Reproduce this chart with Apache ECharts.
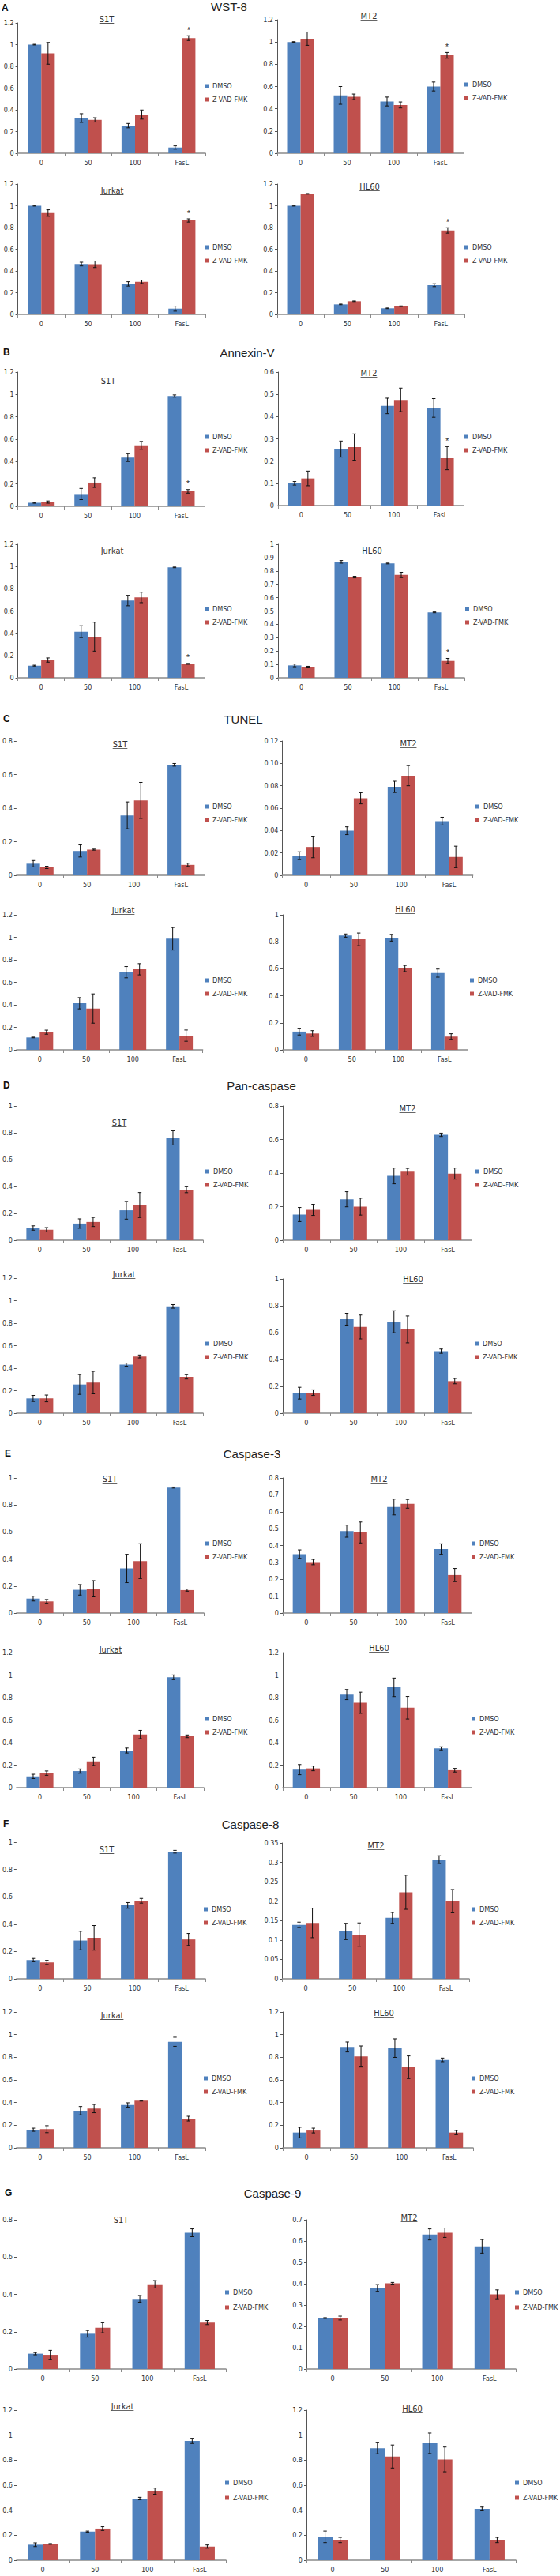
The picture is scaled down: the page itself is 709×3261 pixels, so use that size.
<!DOCTYPE html>
<html><head><meta charset="utf-8">
<script src="https://cdn.jsdelivr.net/npm/echarts@6/dist/echarts.min.js"></script>
<style>html,body{margin:0;padding:0;background:#fff}#c{width:709px;height:3261px}</style>
</head><body><div id="c"></div>
<script>
// ---------------- DATA ----------------
const categories = ['0', '50', '100', 'FasL'];
const seriesNames = ['DMSO', 'Z-VAD-FMK'];
const cellLines = ['S1T', 'MT2', 'Jurkat', 'HL60'];
const panelLetters = ['A', 'B', 'C', 'D', 'E', 'F', 'G'];
const assays = ['WST-8', 'Annexin-V', 'TUNEL', 'Pan-caspase', 'Caspase-3', 'Caspase-8', 'Caspase-9'];
// significance star on FasL / Z-VAD-FMK
const starredAssays = [true, true, false, false, false, false, false];

// y-axis max and step, rows = assays, columns = S1T, MT2, Jurkat, HL60
const yMax = [
  [1.2, 1.2, 1.2, 1.2],
  [1.2, 0.6, 1.2, 1],
  [0.8, 0.12, 1.2, 1],
  [1, 0.8, 1.2, 1],
  [1, 0.8, 1.2, 1.2],
  [1, 0.35, 1.2, 1.2],
  [0.8, 0.7, 1.2, 1.2]];
const yStep = [
  [0.2, 0.2, 0.2, 0.2],
  [0.2, 0.1, 0.2, 0.1],
  [0.2, 0.02, 0.2, 0.2],
  [0.2, 0.2, 0.2, 0.2],
  [0.2, 0.1, 0.2, 0.2],
  [0.2, 0.05, 0.2, 0.2],
  [0.2, 0.1, 0.2, 0.2]];

// rows = S1T, MT2, Jurkat, HL60 ; columns = categories
const wst8_DMSO     = [[1.00, 0.324, 0.254, 0.053], [1.00, 0.52, 0.465, 0.60], [1.00, 0.463, 0.281, 0.053], [1.00, 0.092, 0.056, 0.269]];
const wst8_DMSO_err = [[0.003, 0.04, 0.02, 0.015], [0.003, 0.08, 0.04, 0.04], [0.003, 0.017, 0.02, 0.023], [0.003, 0.003, 0.003, 0.013]];
const wst8_ZVAD     = [[0.92, 0.307, 0.356, 1.06], [1.03, 0.507, 0.434, 0.88], [0.933, 0.461, 0.30, 0.865], [1.11, 0.121, 0.075, 0.773]];
const wst8_ZVAD_err = [[0.10, 0.02, 0.042, 0.022], [0.06, 0.025, 0.027, 0.026], [0.03, 0.03, 0.016, 0.015], [0.003, 0.003, 0.003, 0.025]];

const annexin_DMSO     = [[0.031, 0.11, 0.436, 0.986], [0.10, 0.254, 0.448, 0.439], [0.109, 0.414, 0.694, 0.992], [0.0925, 0.868, 0.856, 0.49]];
const annexin_DMSO_err = [[0.003, 0.05, 0.035, 0.01], [0.008, 0.036, 0.035, 0.042], [0.004, 0.053, 0.047, 0.003], [0.01, 0.01, 0.003, 0.003]];
const annexin_ZVAD     = [[0.038, 0.212, 0.545, 0.134], [0.122, 0.263, 0.475, 0.213], [0.159, 0.369, 0.722, 0.125], [0.083, 0.754, 0.77, 0.126]];
const annexin_ZVAD_err = [[0.01, 0.043, 0.035, 0.016], [0.033, 0.059, 0.053, 0.052], [0.019, 0.13, 0.047, 0.004], [0.003, 0.006, 0.02, 0.019]];

const tunel_DMSO     = [[0.069, 0.145, 0.357, 0.658], [0.0175, 0.0398, 0.079, 0.0484], [0.11, 0.414, 0.69, 0.987], [0.135, 0.846, 0.83, 0.568]];
const tunel_DMSO_err = [[0.019, 0.036, 0.08, 0.008], [0.0035, 0.0035, 0.005, 0.0035], [0.003, 0.05, 0.05, 0.1], [0.025, 0.012, 0.025, 0.03]];
const tunel_ZVAD     = [[0.047, 0.153, 0.446, 0.062], [0.0253, 0.0688, 0.089, 0.0164], [0.157, 0.367, 0.716, 0.126], [0.121, 0.818, 0.602, 0.098]];
const tunel_ZVAD_err = [[0.007, 0.003, 0.107, 0.01], [0.0096, 0.005, 0.009, 0.0096], [0.018, 0.13, 0.05, 0.05], [0.021, 0.047, 0.023, 0.021]];

const pancasp_DMSO     = [[0.091, 0.124, 0.223, 0.762], [0.153, 0.244, 0.383, 0.628], [0.131, 0.255, 0.431, 0.949], [0.149, 0.70, 0.681, 0.462]];
const pancasp_DMSO_err = [[0.016, 0.035, 0.066, 0.053], [0.042, 0.045, 0.047, 0.01], [0.027, 0.088, 0.014, 0.016], [0.044, 0.044, 0.082, 0.016]];
const pancasp_ZVAD     = [[0.078, 0.136, 0.262, 0.376], [0.181, 0.20, 0.408, 0.397], [0.131, 0.272, 0.504, 0.323], [0.153, 0.642, 0.624, 0.239]];
const pancasp_ZVAD_err = [[0.016, 0.034, 0.093, 0.022], [0.033, 0.05, 0.02, 0.033], [0.03, 0.1, 0.013, 0.019], [0.021, 0.089, 0.1, 0.02]];

const casp3_DMSO     = [[0.107, 0.172, 0.33, 0.929], [0.349, 0.485, 0.628, 0.379], [0.10, 0.147, 0.33, 0.98], [0.16, 0.827, 0.891, 0.349]];
const casp3_DMSO_err = [[0.018, 0.039, 0.105, 0.004], [0.025, 0.036, 0.047, 0.031], [0.019, 0.019, 0.022, 0.021], [0.045, 0.045, 0.082, 0.014]];
const casp3_ZVAD     = [[0.086, 0.18, 0.384, 0.17], [0.302, 0.477, 0.647, 0.225], [0.129, 0.234, 0.472, 0.456], [0.171, 0.754, 0.71, 0.155]];
const casp3_ZVAD_err = [[0.014, 0.06, 0.129, 0.008], [0.016, 0.062, 0.026, 0.039], [0.019, 0.037, 0.037, 0.012], [0.021, 0.094, 0.1, 0.016]];

const casp8_DMSO     = [[0.137, 0.28, 0.537, 0.93], [0.139, 0.122, 0.157, 0.307], [0.16, 0.328, 0.379, 0.937], [0.135, 0.891, 0.881, 0.777]];
const casp8_DMSO_err = [[0.012, 0.068, 0.021, 0.01], [0.007, 0.021, 0.014, 0.01], [0.014, 0.037, 0.019, 0.04], [0.047, 0.044, 0.082, 0.016]];
const casp8_ZVAD     = [[0.12, 0.30, 0.571, 0.288], [0.144, 0.114, 0.223, 0.20], [0.165, 0.347, 0.416, 0.258], [0.153, 0.807, 0.712, 0.135]];
const casp8_ZVAD_err = [[0.015, 0.09, 0.017, 0.044], [0.038, 0.03, 0.044, 0.03], [0.031, 0.037, 0.003, 0.021], [0.021, 0.093, 0.1, 0.019]];

const casp9_DMSO     = [[0.082, 0.189, 0.376, 0.73], [0.239, 0.38, 0.631, 0.575], [0.124, 0.229, 0.493, 0.954], [0.187, 0.895, 0.935, 0.41]];
const casp9_DMSO_err = [[0.006, 0.018, 0.018, 0.021], [0.002, 0.016, 0.026, 0.032], [0.015, 0.004, 0.01, 0.021], [0.046, 0.044, 0.082, 0.015]];
const casp9_ZVAD     = [[0.076, 0.221, 0.454, 0.249], [0.239, 0.402, 0.639, 0.35], [0.13, 0.253, 0.552, 0.109], [0.162, 0.829, 0.806, 0.162]];
const casp9_ZVAD_err = [[0.024, 0.027, 0.02, 0.011], [0.009, 0.004, 0.022, 0.021], [0.003, 0.015, 0.025, 0.013], [0.021, 0.092, 0.099, 0.021]];

const assayData = [
  [wst8_DMSO, wst8_DMSO_err, wst8_ZVAD, wst8_ZVAD_err],
  [annexin_DMSO, annexin_DMSO_err, annexin_ZVAD, annexin_ZVAD_err],
  [tunel_DMSO, tunel_DMSO_err, tunel_ZVAD, tunel_ZVAD_err],
  [pancasp_DMSO, pancasp_DMSO_err, pancasp_ZVAD, pancasp_ZVAD_err],
  [casp3_DMSO, casp3_DMSO_err, casp3_ZVAD, casp3_ZVAD_err],
  [casp8_DMSO, casp8_DMSO_err, casp8_ZVAD, casp8_ZVAD_err],
  [casp9_DMSO, casp9_DMSO_err, casp9_ZVAD, casp9_ZVAD_err]];

// ---------------- LAYOUT (pixels) ----------------
// g: [axisLeft, axisRight, plotTop, plotBottom], lg: legend [x, firstItemCenterY], t: title center
const LAYOUT = [
 [ {g:[22.6,260,29,194], lg:[259,109], t:[135,24]},
   {g:[351,587,25,194], lg:[588,107], t:[467,20]},
   {g:[22.6,260,233,398], lg:[259,313], t:[142,241]},
   {g:[351,588,233,398], lg:[588,313], t:[468,236]} ],
 [ {g:[22.6,259,471,641], lg:[259,553], t:[137,482]},
   {g:[352,587,471,640], lg:[588,553], t:[467,472]},
   {g:[22.6,259,689,858], lg:[259,771], t:[142,697]},
   {g:[352,588,689,858], lg:[589,771], t:[471,697]} ],
 [ {g:[18,259,938,1108], lg:[259,1021], t:[152,942]},
   {g:[357.5,598.6,938,1108], lg:[602,1021], t:[517,941]},
   {g:[18,256.6,1158,1329], lg:[259,1241], t:[156,1152]},
   {g:[358,592,1158,1329], lg:[595,1241], t:[513,1151]} ],
 [ {g:[19,257,1400,1570], lg:[260,1483], t:[151,1421]},
   {g:[358,597,1400,1570], lg:[602,1483], t:[516,1403]},
   {g:[19,257,1618,1789], lg:[260,1701], t:[157,1613]},
   {g:[358,597,1619,1789], lg:[601,1701], t:[523,1619]} ],
 [ {g:[20,258,1871,2042], lg:[259,1954], t:[139,1872]},
   {g:[358,597,1871,2042], lg:[597,1954], t:[480,1872]},
   {g:[20,258,2092,2263], lg:[259,2176], t:[140,2088]},
   {g:[358,597,2092,2263], lg:[597,2176], t:[480,2086]} ],
 [ {g:[20,260,2332,2505], lg:[258,2417], t:[135,2341]},
   {g:[357.5,594,2333,2505], lg:[597,2417], t:[476,2336]},
   {g:[20,260,2547,2719], lg:[258,2631], t:[142,2551]},
   {g:[358,599,2547,2719], lg:[597,2631], t:[486,2548]} ],
 [ {g:[21,286,2810,2999], lg:[285,2902], t:[153,2810]},
   {g:[388,653,2810,2999], lg:[652,2902], t:[518,2807]},
   {g:[21,286,3051,3241], lg:[285,3143], t:[155,3046]},
   {g:[388,653,3051,3241], lg:[652,3143], t:[522,3049]} ]
];
// [letterX, letterY, titleCenterX, titleY]
const HEAD = [[2,10,290,8],[4,446,313,446],[4,910,308,910],[4,1374,331,1374],[6,1840,319,1840],[4,2309,317,2309],[6,2776,345,2776]];

const NARROW = "'Liberation Sans Narrow','DejaVu Sans Condensed',sans-serif";
const SANS = "'Liberation Sans','DejaVu Sans',sans-serif";
const BLUE = '#4F81BD', RED = '#C0504D';
const BAR_FRAC = 0.288;

const measureCtx = document.createElement('canvas').getContext('2d');
function textWidth(txt, font) { measureCtx.font = font; return measureCtx.measureText(txt).width; }

const option = {animation:false, grid:[], xAxis:[], yAxis:[], series:[], legend:[], graphic:{elements:[]}};

function errRender(params, api) {
  const ci = api.value(0), m = api.value(1), e = api.value(2), s = api.value(3), st = api.value(4);
  const c = api.coord([ci, m]);
  const band = api.size([1, 0])[0];
  const x = c[0] + (s === 0 ? -1 : 1) * band * BAR_FRAC / 2;
  const top = api.coord([ci, m + e])[1];
  const bot = api.coord([ci, Math.max(0, m - e)])[1];
  const cap = 2.2;
  const ls = {stroke:'#111', lineWidth:1};
  const children = [
    {type:'line', shape:{x1:x, y1:top, x2:x, y2:bot}, style:ls},
    {type:'line', shape:{x1:x-cap, y1:top, x2:x+cap, y2:top}, style:ls},
    {type:'line', shape:{x1:x-cap, y1:bot, x2:x+cap, y2:bot}, style:ls}
  ];
  if (st) children.push({type:'text', x:x, y:top - 2, style:{text:'*', fontSize:10, fontFamily:SANS, fill:'#222', align:'center', verticalAlign:'bottom'}});
  return {type:'group', children};
}

let gi = 0;
for (let a = 0; a < assays.length; a++) {
  const [dm, dmE, zv, zvE] = assayData[a];
  const H = HEAD[a];
  option.graphic.elements.push({type:'text', x:H[0], y:H[1], style:{text:panelLetters[a], font:'bold 12px ' + SANS, fill:'#111', align:'left', verticalAlign:'middle'}});
  option.graphic.elements.push({type:'text', x:H[2], y:H[3], style:{text:assays[a], font:'15px ' + SANS, fill:'#222', align:'center', verticalAlign:'middle'}});
  for (let c = 0; c < cellLines.length; c++) {
    const L = LAYOUT[a][c];
    const step = yStep[a][c];
    option.grid.push({left:L.g[0], top:L.g[2], width:L.g[1]-L.g[0], height:L.g[3]-L.g[2]});
    option.xAxis.push({type:'category', gridIndex:gi, data:categories,
      axisLine:{lineStyle:{color:'#8a8a8a', width:1.5}},
      axisTick:{show:true, length:4, interval:0, lineStyle:{color:'#8a8a8a', width:1}},
      axisLabel:{fontSize:9, fontFamily:NARROW, color:'#333', margin:7, interval:0}});
    option.yAxis.push({type:'value', gridIndex:gi, min:0, max:yMax[a][c], interval:step,
      splitLine:{show:false},
      axisLine:{show:true, lineStyle:{color:'#555', width:1}},
      axisTick:{show:true, length:3, lineStyle:{color:'#555'}},
      axisLabel:{fontSize:9, fontFamily:NARROW, color:'#333', margin:5,
        formatter: step < 0.05 ? (v => v === 0 ? '0' : v.toFixed(2)) : (v => String(+v.toFixed(4)))}});
    option.series.push({name:seriesNames[0], type:'bar', xAxisIndex:gi, yAxisIndex:gi, data:dm[c],
      barWidth:(BAR_FRAC*100)+'%', barGap:'0%', itemStyle:{color:BLUE}});
    option.series.push({name:seriesNames[1], type:'bar', xAxisIndex:gi, yAxisIndex:gi, data:zv[c],
      barWidth:(BAR_FRAC*100)+'%', barGap:'0%', itemStyle:{color:RED}});
    const errData = [];
    for (let k = 0; k < categories.length; k++) {
      errData.push([k, dm[c][k], dmE[c][k], 0, 0]);
      errData.push([k, zv[c][k], zvE[c][k], 1, (starredAssays[a] && k === 3) ? 1 : 0]);
    }
    option.series.push({name:'err' + gi, type:'custom', xAxisIndex:gi, yAxisIndex:gi, data:errData,
      encode:{x:0, y:1}, renderItem:errRender, z:5, silent:true});
    const gap = a === 6 ? 8 : 6;
    option.legend.push({orient:'vertical', left:L.lg[0], top:L.lg[1] - 5.5, padding:0,
      itemWidth:5, itemHeight:5, itemGap:gap, icon:'rect', selectedMode:false, data:seriesNames,
      textStyle:{fontSize:9, fontFamily:NARROW, color:'#333', lineHeight:11}});
    // underlined panel title
    const tfont = '11px ' + NARROW;
    const w = textWidth(cellLines[c], tfont);
    option.graphic.elements.push({type:'text', x:L.t[0], y:L.t[1], style:{text:cellLines[c], font:tfont, fill:'#333', align:'center', verticalAlign:'middle'}});
    option.graphic.elements.push({type:'rect', shape:{x:L.t[0] - w/2, y:L.t[1] + 5, width:w, height:0.9}, style:{fill:'#555'}});
    gi++;
  }
}

const chart = echarts.init(document.getElementById('c'), null, {renderer:'svg', width:709, height:3261});
chart.setOption(option);
</script>
</body></html>
